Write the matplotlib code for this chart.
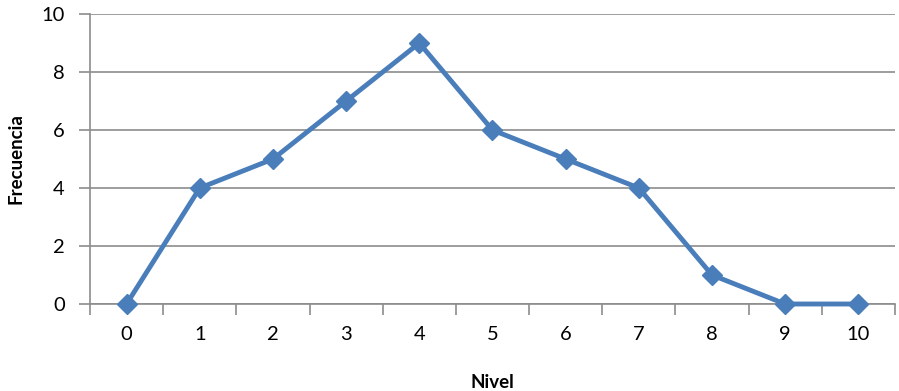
import matplotlib
matplotlib.use("Agg")
import matplotlib.pyplot as plt

niveles = [0, 1, 2, 3, 4, 5, 6, 7, 8, 9, 10]
frecuencia = [0, 4, 5, 7, 9, 6, 5, 4, 1, 0, 0]

plt.rcParams['font.family'] = ['Lato', 'DejaVu Sans']
GRAY = "#8c8c8c"

fig = plt.figure(figsize=(8.99, 3.91), dpi=100)
ax = fig.add_axes([0.1001, 0.2225, 0.8954, 0.7415])
ax.plot(niveles, frecuencia, "D-", color="#4a7ebb", linewidth=3.5, markersize=10,
        zorder=3, clip_on=False)

ax.set_xlim(-0.5, 10.5)
ax.set_ylim(0, 10)
ax.set_yticks(range(0, 11, 2))
ax.set_xticks(niveles)
ax.set_xticks([i - 0.5 for i in range(12)], minor=True)
ax.tick_params(axis="x", which="major", length=0, pad=16, labelsize=14.5)
ax.tick_params(axis="x", which="minor", length=8, width=1.2, color=GRAY)
ax.tick_params(axis="y", length=8, width=1.2, color=GRAY, labelsize=14.5, pad=10)
ax.grid(axis="y", color=GRAY, linewidth=1.2)
ax.set_axisbelow(True)
for s in ["top", "right"]:
    ax.spines[s].set_visible(False)
for s in ["left", "bottom"]:
    ax.spines[s].set_color(GRAY)
    ax.spines[s].set_linewidth(1.2)

ax.set_xlabel("Nivel", fontweight="bold", fontsize=13.5, labelpad=22)
ax.set_ylabel("Frecuencia", fontweight="bold", fontsize=13.5, labelpad=12)

fig.savefig("out.png", dpi=100)
